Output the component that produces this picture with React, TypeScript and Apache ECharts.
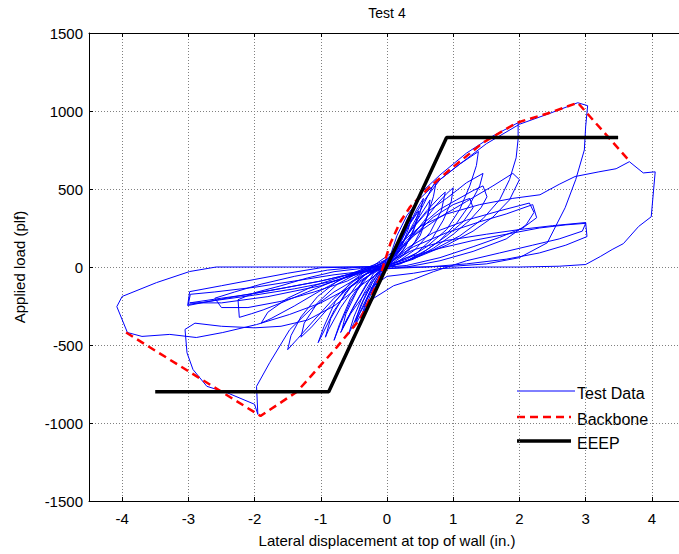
import React, { useEffect, useRef } from "react";
import * as echarts from "echarts";

// ---- Tick definitions ----
const xMin = -4.5;
const xMax = 4.5;
const yMin = -1500;
const yMax = 1500;
const yStep = 500;

// ---- EEEP curve (in., plf) ----
const eeep: number[][] = [
  [-3.5, -800],
  [-0.88, -800],
  [0.9, 830],
  [3.49, 830],
];

// ---- Backbone curve ----
const backbone: number[][] = [
  [-3.94, -420],
  [-1.91, -955],
  [-1.36, -800],
  [-0.76, -515],
  [-0.4, -330],
  [-0.12, -80],
  [0.05, 150],
  [0.2, 290],
  [0.35, 386],
  [0.65, 515],
  [0.95, 624],
  [1.45, 797],
  [1.96, 925],
  [2.46, 989],
  [2.88, 1053],
  [3.66, 680],
];

// ---- Test data, cycle by cycle ----
const cycle01: number[][] = [[0,0],[0.06,50],[0.12,110],[0.18,170],[0.22,215],[0.17,150],[0.1,70],[0.03,10],[-0.05,-30],[-0.12,-90],[-0.19,-160],[-0.24,-215],[-0.19,-140],[-0.1,-60],[0,0]];
const cycle02: number[][] = [[0.04,30],[0.12,100],[0.22,190],[0.3,260],[0.37,320],[0.32,240],[0.22,130],[0.1,40],[0,0],[-0.1,-50],[-0.2,-130],[-0.3,-230],[-0.38,-310],[-0.3,-200],[-0.18,-90],[-0.05,-10],[0.02,20]];
const cycle03: number[][] = [[0.1,70],[0.2,150],[0.32,260],[0.45,370],[0.55,440],[0.5,350],[0.38,210],[0.22,90],[0.05,30],[-0.1,-20],[-0.22,-100],[-0.36,-220],[-0.5,-360],[-0.58,-430],[-0.5,-320],[-0.35,-170],[-0.18,-50],[0,10]];
const cycle03b: number[][] = [[0.05,40],[0.2,160],[0.35,280],[0.48,360],[0.42,260],[0.28,130],[0.12,50],[-0.05,-20],[-0.2,-120],[-0.35,-250],[-0.48,-350],[-0.4,-250],[-0.25,-110],[-0.08,-10],[0.03,30]];
const cycle04: number[][] = [[0.1,60],[0.25,160],[0.4,280],[0.55,400],[0.68,510],[0.75,560],[0.7,450],[0.58,290],[0.42,160],[0.25,80],[0.05,30],[-0.15,-10],[-0.35,-80],[-0.55,-220],[-0.7,-360],[-0.8,-470],[-0.72,-370],[-0.55,-200],[-0.35,-80],[-0.12,0],[0.05,40]];
const cycle04b: number[][] = [[0.1,70],[0.3,200],[0.5,330],[0.65,430],[0.62,340],[0.5,200],[0.3,90],[0.1,30],[-0.1,-20],[-0.3,-100],[-0.5,-250],[-0.68,-400],[-0.62,-300],[-0.45,-150],[-0.25,-40],[0,20]];
const cycle05: number[][] = [[0.15,80],[0.35,180],[0.55,290],[0.75,400],[0.9,470],[1.0,508],[0.97,420],[0.85,300],[0.68,180],[0.45,90],[0.2,40],[-0.05,0],[-0.3,-40],[-0.55,-130],[-0.8,-280],[-0.95,-410],[-1.04,-485],[-0.95,-380],[-0.78,-220],[-0.55,-100],[-0.3,-20],[-0.05,30]];
const cycle05b: number[][] = [[0.12,90],[0.35,230],[0.6,360],[0.8,450],[0.88,480],[0.82,360],[0.65,220],[0.42,110],[0.15,30],[-0.15,-20],[-0.45,-110],[-0.7,-260],[-0.88,-400],[-0.93,-450],[-0.85,-330],[-0.62,-160],[-0.35,-50],[-0.05,20]];
const cycle06: number[][] = [[0.1,60],[0.3,170],[0.55,280],[0.8,370],[1.05,430],[1.3,490],[1.45,520],[1.51,450],[1.42,380],[1.25,300],[1.0,210],[0.7,120],[0.4,50],[0.1,10],[-0.2,-20],[-0.5,-90],[-0.8,-200],[-1.1,-340],[-1.35,-460],[-1.5,-530],[-1.45,-440],[-1.3,-320],[-1.05,-190],[-0.75,-90],[-0.4,-20],[-0.1,30]];
const cycle06b: number[][] = [[0.1,70],[0.4,200],[0.7,320],[1.0,400],[1.25,440],[1.3,380],[1.15,290],[0.9,200],[0.6,110],[0.3,40],[0,0],[-0.3,-40],[-0.6,-140],[-0.9,-270],[-1.15,-390],[-1.3,-450],[-1.25,-360],[-1.05,-230],[-0.75,-110],[-0.4,-30],[-0.1,20]];
const cycle07: number[][] = [[0.1,90],[0.3,250],[0.55,420],[0.8,560],[1.1,660],[1.38,740],[1.35,650],[1.25,520],[1.1,370],[0.9,240],[0.6,130],[0.3,50],[0,10],[-0.4,-10],[-0.8,-30],[-1.2,-70],[-1.6,-120],[-2.0,-165],[-2.25,-210],[-2.23,-323],[-2.05,-300],[-1.87,-275],[-1.6,-230],[-1.2,-160],[-0.8,-90],[-0.4,-30],[-0.1,20]];
const cycle07b: number[][] = [[0.1,80],[0.35,230],[0.6,350],[0.9,440],[1.2,540],[1.45,600],[1.4,520],[1.25,400],[1.05,280],[0.8,170],[0.5,80],[0.2,20],[-0.2,-10],[-0.6,-60],[-1.0,-150],[-1.4,-250],[-1.75,-330],[-1.9,-360],[-1.8,-290],[-1.5,-200],[-1.1,-120],[-0.6,-50],[-0.2,10]];
const cycle08: number[][] = [[0.1,100],[0.3,300],[0.5,470],[0.8,590],[1.2,730],[1.6,840],[1.98,925],[1.98,820],[1.95,700],[1.85,560],[1.7,430],[1.45,310],[1.1,200],[0.7,110],[0.3,40],[0,0],[-0.5,0],[-1.0,-5],[-1.5,-40],[-2.0,-80],[-2.5,-120],[-2.98,-158],[-3.01,-247],[-2.53,-208],[-2.03,-170],[-1.5,-130],[-1.0,-90],[-0.5,-40],[-0.15,10]];
const cycle08b: number[][] = [[0.05,50],[0.4,200],[0.8,320],[1.2,420],[1.6,520],[1.9,600],[2.0,560],[1.85,430],[1.6,320],[1.3,230],[0.9,140],[0.5,70],[0.1,10],[-0.4,0],[-0.9,-20],[-1.4,-60],[-1.9,-110],[-2.3,-160],[-2.6,-200],[-2.5,-260],[-2.1,-260],[-1.6,-220],[-1.1,-160],[-0.6,-90],[-0.2,0]];
const cycle09: number[][] = [[0.05,40],[0.4,130],[0.9,220],[1.4,290],[1.8,340],[2.2,400],[2.26,316],[2.05,250],[1.7,190],[1.3,130],[0.8,60],[0.3,10],[0,0],[-0.4,-120],[-0.8,-250],[-1.2,-340],[-1.6,-380],[-2.0,-390],[-2.5,-380],[-2.9,-360],[-3.05,-400],[-3.02,-550],[-2.93,-657],[-2.72,-765],[-2.42,-805],[-2.0,-880],[-1.95,-945],[-1.97,-765],[-1.77,-612],[-1.47,-402],[-1.15,-270],[-0.8,-160],[-0.4,-60],[0,10]];
const cycle10: number[][] = [[0,10],[0.15,200],[0.3,330],[0.5,440],[0.8,560],[1.1,660],[1.5,790],[2.0,915],[2.46,985],[2.88,1053],[3.03,1034],[3.0,900],[2.98,750],[2.85,560],[2.69,380],[2.42,155],[2.0,60],[1.5,20],[1.0,5],[0.5,0],[0,0],[-0.5,0],[-1.0,0],[-1.5,0],[-2.0,0],[-2.58,0],[-2.98,-29],[-3.48,-100],[-4.0,-189],[-4.08,-254],[-3.92,-420],[-3.7,-445],[-3.28,-432],[-2.88,-452],[-2.48,-420],[-1.97,-369],[-1.47,-304],[-1.0,-230],[-0.6,-140],[-0.3,-60],[0,20]];
const cycle10b: number[][] = [[0,10],[0.3,120],[0.7,220],[1.2,300],[1.7,360],[2.15,410],[2.22,350],[2.1,270],[1.8,180],[1.3,100],[0.8,40],[0.3,0],[-0.2,-20],[-0.8,-50],[-1.4,-90],[-2.0,-130],[-2.6,-160],[-2.97,-175],[-3.0,-240],[-2.6,-215],[-2.0,-180],[-1.4,-140],[-0.8,-90],[-0.3,-30],[0,10]];
const cycle11: number[][] = [[0.05,40],[0.4,110],[0.9,170],[1.5,210],[2.0,240],[2.5,265],[3.0,285],[3.02,195],[2.7,140],[2.3,90],[1.8,50],[1.2,20],[0.6,0],[0,-10],[-0.5,-40],[-1.0,-90],[-1.5,-130],[-2.0,-170],[-2.5,-200],[-2.98,-230],[-2.5,-230],[-1.8,-190],[-1.0,-120],[-0.5,-50],[0,20]];
const cycle12: number[][] = [[0,20],[0.2,150],[0.5,260],[0.9,340],[1.4,400],[1.9,440],[2.31,463],[2.6,530],[2.84,580],[3.2,610],[3.46,630],[3.66,675],[3.87,603],[4.05,610],[3.99,322],[3.8,260],[3.57,150],[3.4,112],[3.22,67],[3.0,16],[2.6,5],[2.0,0],[1.4,0],[0.8,-10],[0.4,-40],[0,-60],[-0.3,-150],[-0.55,-300],[-0.7,-420],[-0.6,-330],[-0.4,-180],[-0.2,-40],[0,10]];
const cycle13: number[][] = [[0,10],[0.3,60],[0.8,120],[1.3,170],[1.8,210],[2.3,250],[2.7,270],[3.0,280],[2.95,230],[2.6,180],[2.2,140],[1.7,90],[1.2,40],[0.7,-30],[0.4,-80],[0.1,-120],[-0.2,-200],[-0.4,-310],[-0.5,-390],[-0.42,-300],[-0.25,-150],[-0.1,-30],[0,0]];

const testData: number[][] = [
  ...cycle01, ...cycle02, ...cycle03, ...cycle03b, ...cycle04, ...cycle04b, ...cycle05, ...cycle05b,
  ...cycle06, ...cycle06b, ...cycle07, ...cycle07b, ...cycle08, ...cycle08b, ...cycle09,
  ...cycle10, ...cycle10b, ...cycle11, ...cycle12, ...cycle13,
];

const titleText = "Test 4";
const xName = "Lateral displacement at top of wall (in.)";
const yName = "Applied load (plf)";
const legendNames = ["Test Data", "Backbone", "EEEP"];

const FONT = "'Liberation Sans', Arial, Helvetica, sans-serif";

export default function App() {
  const ref = useRef<HTMLDivElement>(null);

  useEffect(() => {
    if (!ref.current) return;
    const chart = echarts.init(ref.current, null, { renderer: "svg" });
    const gridLine = { show: true, lineStyle: { color: "#808080", type: [1, 2] as any, width: 1 } };
    const option: any = {
      animation: false,
      backgroundColor: "#ffffff",
      textStyle: { fontFamily: FONT },
      grid: { left: 89, top: 33, width: 596, height: 468 },
      xAxis: [
        {
          type: "value",
          min: xMin,
          max: xMax,
          splitNumber: 9,
          minInterval: 1,
          maxInterval: 1,
          position: "bottom",
          axisLine: { show: true, onZero: false, lineStyle: { color: "#000", width: 1 } },
          axisTick: { show: true, inside: true, length: 4, lineStyle: { color: "#000" } },
          axisLabel: { show: true, showMinLabel: false, showMaxLabel: false, color: "#000", fontSize: 15, fontFamily: FONT, margin: 10, formatter: (v: number) => String(v) },
          splitLine: gridLine,
          name: xName,
          nameLocation: "middle",
          nameGap: 32,
          nameTextStyle: { color: "#000", fontSize: 15, fontFamily: FONT },
        },
        {
          type: "value",
          min: xMin,
          max: xMax,
          splitNumber: 9,
          minInterval: 1,
          maxInterval: 1,
          position: "top",
          axisLine: { show: true, onZero: false, lineStyle: { color: "#000", width: 1 } },
          axisTick: { show: true, inside: true, length: 4, lineStyle: { color: "#000" } },
          axisLabel: { show: false },
          splitLine: { show: false },
        },
      ],
      yAxis: [
        {
          type: "value",
          min: yMin,
          max: yMax,
          interval: yStep,
          axisLine: { show: true, onZero: false, lineStyle: { color: "#000", width: 1 } },
          axisTick: { show: true, inside: true, length: 4, lineStyle: { color: "#000" } },
          axisLabel: { color: "#000", fontSize: 15, fontFamily: FONT, margin: 6, formatter: (v: number) => String(v) },
          splitLine: gridLine,
          name: yName,
          nameLocation: "middle",
          nameGap: 62,
          nameTextStyle: { color: "#000", fontSize: 15, fontFamily: FONT },
        },
      ],
      series: [
        {
          name: legendNames[0],
          type: "line",
          data: testData,
          symbol: "none",
          showSymbol: false,
          lineStyle: { color: "#0000ff", width: 1 },
          z: 2,
        },
        {
          name: legendNames[1],
          type: "line",
          data: backbone,
          symbol: "none",
          showSymbol: false,
          lineStyle: { color: "#ff0000", width: 2.5, type: [8, 5] },
          z: 3,
        },
        {
          name: legendNames[2],
          type: "line",
          data: eeep,
          symbol: "none",
          showSymbol: false,
          lineStyle: { color: "#000000", width: 3.5 },
          z: 4,
        },
      ],
      graphic: [
        {
          type: "text",
          x: 387,
          y: 13,
          style: { text: titleText, fill: "#000", font: `14px ${FONT}`, align: "center", verticalAlign: "middle", textAlign: "center", textVerticalAlign: "middle" },
        },
        { type: "line", shape: { x1: 517, y1: 391, x2: 575, y2: 391 }, style: { stroke: "#0000ff", lineWidth: 1 } },
        { type: "line", shape: { x1: 517, y1: 417, x2: 571, y2: 417 }, style: { stroke: "#ff0000", lineWidth: 2.5, lineDash: [8, 5] } },
        { type: "line", shape: { x1: 517, y1: 441, x2: 571, y2: 441 }, style: { stroke: "#000000", lineWidth: 3.5 } },
        {
          type: "text", x: 577, y: 393,
          style: { text: legendNames[0], fill: "#000", font: `16px ${FONT}`, align: "left", verticalAlign: "middle", textAlign: "left", textVerticalAlign: "middle" },
        },
        {
          type: "text", x: 577, y: 419,
          style: { text: legendNames[1], fill: "#000", font: `16px ${FONT}`, align: "left", verticalAlign: "middle", textAlign: "left", textVerticalAlign: "middle" },
        },
        {
          type: "text", x: 577, y: 443,
          style: { text: legendNames[2], fill: "#000", font: `16px ${FONT}`, align: "left", verticalAlign: "middle", textAlign: "left", textVerticalAlign: "middle" },
        },
      ],
    };
    chart.setOption(option);
    return () => chart.dispose();
  }, []);

  return (
    <div style={{ position: "absolute", left: 0, top: 0, width: 679, height: 554, overflow: "hidden", background: "#fff" }}>
      <div ref={ref} style={{ width: 720, height: 554 }} />
    </div>
  );
}
